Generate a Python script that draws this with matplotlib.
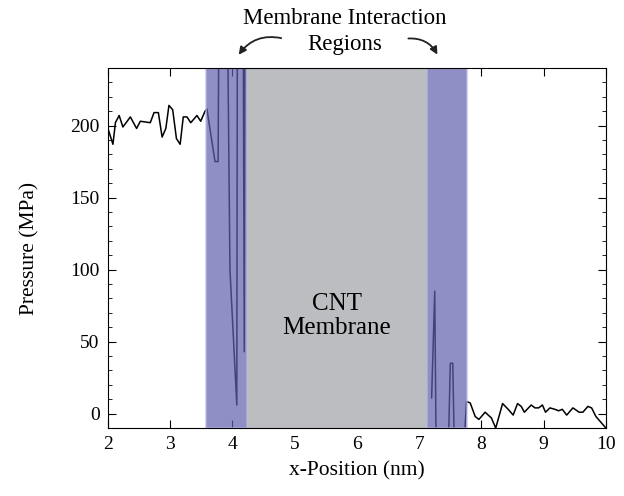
import numpy as np
import matplotlib
matplotlib.use("Agg")
import matplotlib.pyplot as plt
from matplotlib.patches import FancyArrowPatch
from matplotlib.ticker import MultipleLocator

# Data: left bulk region + first interaction region
x_left = [2.00, 2.08, 2.12, 2.18, 2.24, 2.36, 2.46, 2.52, 2.68, 2.74, 2.81, 2.87,
          2.93, 2.98, 3.04, 3.10, 3.16, 3.21, 3.27, 3.33, 3.43, 3.49, 3.56, 3.59,
          3.72, 3.77, 3.82, 3.87, 3.96, 4.07, 4.09, 4.15, 4.19, 4.21]
p_left = [198, 187, 202, 207, 199, 206, 198, 203, 202, 209, 209, 192,
          198, 214, 211, 191, 187, 206, 206, 202, 207, 203, 210, 211.5,
          175, 175, 600, 500, 100, 6, 600, 600, 43, 600]

# Second interaction region + right bulk region
x_right = [7.20, 7.25, 7.28, 7.45, 7.50, 7.54, 7.58, 7.67,
           7.76, 7.82, 7.90, 7.96, 8.06, 8.16, 8.23, 8.34, 8.43, 8.51, 8.58,
           8.64, 8.69, 8.80, 8.86, 8.92, 8.98, 9.03, 9.10, 9.18, 9.24, 9.30,
           9.37, 9.47, 9.57, 9.63, 9.71, 9.77, 9.84, 9.90, 9.98, 10.0]
p_right = [11, 85, -60, -60, 35, 35, -60, -60,
           8.5, 7.4, -2, -4, 1, -3, -10, 7, 3, -1, 7,
           5, 1, 6, 4, 4, 6, 1, 4, 3, 2, 3,
           -1, 4, 1, 1, 5, 4, -2, -5, -9, -10]

band1 = (3.574, 4.233)
cnt = (4.233, 7.125)
band2 = (7.125, 7.767)

plt.rcParams['font.family'] = ['Liberation Serif', 'DejaVu Serif']

fig = plt.figure(figsize=(6.24, 4.96), dpi=100)
ax = fig.add_axes([0.173, 0.137, 0.798, 0.726])

ax.plot(x_left, p_left, color='black', lw=1.1, zorder=2)
ax.plot(x_right, p_right, color='black', lw=1.1, zorder=2)

purple = '#6060ae'
for b in (band1, band2):
    ax.axvspan(b[0], b[1], facecolor=purple, edgecolor='#b8b8e8', lw=1.2,
               alpha=0.7, zorder=3)
ax.axvspan(cnt[0], cnt[1], facecolor='#bcbdc0', edgecolor='none', zorder=4)

ax.set_xlim(2, 10)
ax.set_ylim(-10, 240)
ax.xaxis.set_major_locator(MultipleLocator(1))
ax.yaxis.set_major_locator(MultipleLocator(50))
ax.yaxis.set_minor_locator(MultipleLocator(10))
ax.tick_params(which='both', direction='in', top=True, right=True, labelsize=14)
ax.tick_params(which='major', length=6, pad=6)
ax.tick_params(which='minor', length=3)
for s in ax.spines.values():
    s.set_zorder(6)
ax.set_axisbelow(False)

ax.set_xlabel('x-Position (nm)', fontsize=15.5, labelpad=6)
ax.set_ylabel('Pressure (MPa)', fontsize=15.5, labelpad=22)

ax.text((cnt[0] + cnt[1]) / 2, 68, 'CNT\nMembrane', ha='center', va='center',
        fontsize=18, zorder=7, linespacing=1.1)

fig.text(0.553, 0.963, 'Membrane Interaction', ha='center', va='center', fontsize=16.5)
fig.text(0.553, 0.91, 'Regions', ha='center', va='center', fontsize=16.5)

a1 = FancyArrowPatch((0.455, 0.922), (0.38, 0.885), transform=fig.transFigure,
                     connectionstyle='arc3,rad=0.35', arrowstyle='-|>',
                     mutation_scale=11, lw=1.3, color='#222222')
a2 = FancyArrowPatch((0.65, 0.922), (0.703, 0.885), transform=fig.transFigure,
                     connectionstyle='arc3,rad=-0.35', arrowstyle='-|>',
                     mutation_scale=11, lw=1.3, color='#222222')
fig.patches.extend([a1, a2])

fig.savefig('out.png', dpi=100)
